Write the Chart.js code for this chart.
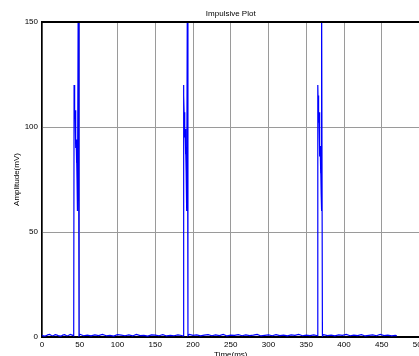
<!DOCTYPE html>
<html>
<head>
<meta charset="utf-8">
<script src="https://cdn.jsdelivr.net/npm/chart.js@4/dist/chart.umd.min.js"></script>
<style>
html,body{margin:0;padding:0;background:#fff;overflow:hidden;width:419px;height:356px;}
#wrap{position:absolute;left:0;top:0;width:440px;height:362px;}
</style>
</head>
<body>
<div id="wrap"><canvas id="c" width="440" height="362"></canvas></div>
<script>
// Time (ms) and amplitude (mV)
const timeMs = [
  0, 2.5, 5, 7.5, 10, 12.5, 15, 17.5, 20, 22.5, 25, 27.5, 30, 32.5, 35, 37.5, 40, 42,
  42.5, 42.9, 43.2, 43.6, 43.9, 44.3, 44.6, 45.0, 45.3, 45.7, 46.0, 46.4, 46.7, 47.2, 48.0, 49.0,
  50, 55, 60, 65, 70, 75, 80, 85, 90, 95, 100, 105, 110, 115, 120, 125, 130, 135, 140, 145,
  150, 155, 160, 165, 170, 175, 180, 185, 186.8,
  187.2, 187.7, 188.0, 188.5, 188.8, 189.3, 189.6, 190.1, 190.4, 190.9, 191.2, 191.7, 192.0, 192.5, 193.3,
  195, 200, 205, 210, 215, 220, 225, 230, 235, 240, 245, 250, 255, 260, 265, 270, 275, 280,
  285, 290, 295, 300, 305, 310, 315, 320, 325, 330, 335, 340, 345, 350, 355, 360, 364.8,
  365.3, 365.8, 366.1, 366.6, 366.9, 367.4, 367.7, 368.2, 368.5, 369.0, 369.3, 369.8, 370.1, 370.6, 371.4,
  373, 378, 383, 388, 393, 398, 403, 408, 413, 418, 423, 428, 433, 438, 443, 448, 453, 458, 463, 468, 470
];
const amplitudeMv = [
  0.8, 0.4, 0.5, 1.0, 1.2, 0.7, 0.6, 1.1, 0.9, 0.5, 0.4, 0.9, 1.1, 0.6, 0.7, 1.2, 0.9, 0.6,
  120, 111, 115, 104, 108, 97, 101, 90, 94, 83, 87, 75, 79, 60, 165, 0.5,
  1.3, 0.6, 0.9, 0.5, 1.0, 0.7, 1.2, 0.6, 0.8, 0.4, 1.1, 0.9, 0.6, 1.0, 0.5, 1.2, 0.7, 0.8, 0.4, 1.0,
  0.9, 0.6, 1.1, 0.5, 0.8, 0.6, 1.0, 0.7, 0.5,
  120, 111, 115, 103, 107, 95, 99, 87, 91, 79, 83, 70, 60, 165, 0.6,
  1.2, 0.8, 1.0, 0.5, 0.9, 1.1, 0.6, 1.0, 0.7, 1.2, 0.5, 0.9, 0.8, 1.1, 0.6, 1.0, 0.7, 0.9,
  1.2, 0.5, 0.8, 1.0, 0.6, 1.1, 0.7, 0.9, 0.5, 1.0, 0.8, 1.2, 0.6, 0.9, 0.7, 1.0, 0.6,
  120, 110, 115, 102, 107, 94, 99, 86, 91, 78, 82, 68, 60, 165, 0.5,
  1.1, 0.7, 0.9, 0.5, 1.0, 0.8, 1.2, 0.6, 0.9, 0.7, 1.1, 0.5, 0.8, 1.0, 0.6, 1.2, 0.7, 0.9, 0.5, 0.8, 0.6
];
const xTicks = [0, 50, 100, 150, 200, 250, 300, 350, 400, 450, 500];
const yTicks = [0, 50, 100, 150];
const chartTitle = 'Impulsive Plot';
const xTitle = 'Time(ms)';
const yTitle = 'Amplitude(mV)';

const points = timeMs.map((t, i) => ({x: t, y: amplitudeMv[i]}));
const FONT = 'Liberation Sans, Arial, sans-serif';

const boxPlugin = {
  id: 'box',
  afterDraw(chart) {
    const {ctx, chartArea: a} = chart;
    ctx.save();
    ctx.strokeStyle = '#000';
    ctx.lineWidth = 2;
    ctx.beginPath();
    ctx.moveTo(a.left, a.top); ctx.lineTo(a.right, a.top);
    ctx.stroke();
    ctx.lineWidth = 1;
    ctx.beginPath();
    ctx.moveTo(a.right, a.top); ctx.lineTo(a.right, a.bottom);
    ctx.stroke();
    ctx.restore();
  }
};

new Chart(document.getElementById('c'), {
  type: 'line',
  data: {
    datasets: [{
      data: points,
      borderColor: '#0000ff',
      borderWidth: 1.2,
      pointRadius: 0,
      tension: 0,
      fill: false
    }]
  },
  options: {
    responsive: false,
    animation: false,
    layout: {padding: {left: 0, right: 20.5, top: 0.4, bottom: 0}},
    plugins: {
      legend: {display: false},
      tooltip: {enabled: false},
      title: {
        display: true,
        text: chartTitle,
        fullSize: false,
        color: '#000',
        font: {family: FONT, size: 8, weight: 'normal'},
        padding: {top: 9, bottom: 3}
      }
    },
    scales: {
      x: {
        type: 'linear',
        min: 0, max: 500,
        afterBuildTicks(s) { s.ticks = xTicks.map(v => ({value: v})); },
        afterFit(s) { s.height = 25; },
        grid: {color: '#9a9a9a', lineWidth: 1, drawTicks: false},
        border: {color: '#000', width: 2},
        ticks: {color: '#000', font: {family: FONT, size: 8}, padding: 3, maxRotation: 0, autoSkip: false},
        title: {display: true, text: xTitle, color: '#000', font: {family: FONT, size: 8}, padding: {top: 2, bottom: 2}}
      },
      y: {
        min: 0, max: 150,
        afterBuildTicks(s) { s.ticks = yTicks.map(v => ({value: v})); },
        afterFit(s) { s.width = 42; },
        grid: {color: '#9a9a9a', lineWidth: 1, drawTicks: false},
        border: {color: '#000', width: 1.5},
        ticks: {color: '#000', font: {family: FONT, size: 8}, padding: 4},
        title: {display: true, text: yTitle, color: '#000', font: {family: FONT, size: 8}, padding: {top: 12, bottom: 0}}
      }
    }
  },
  plugins: [boxPlugin]
});
</script>
</body>
</html>
